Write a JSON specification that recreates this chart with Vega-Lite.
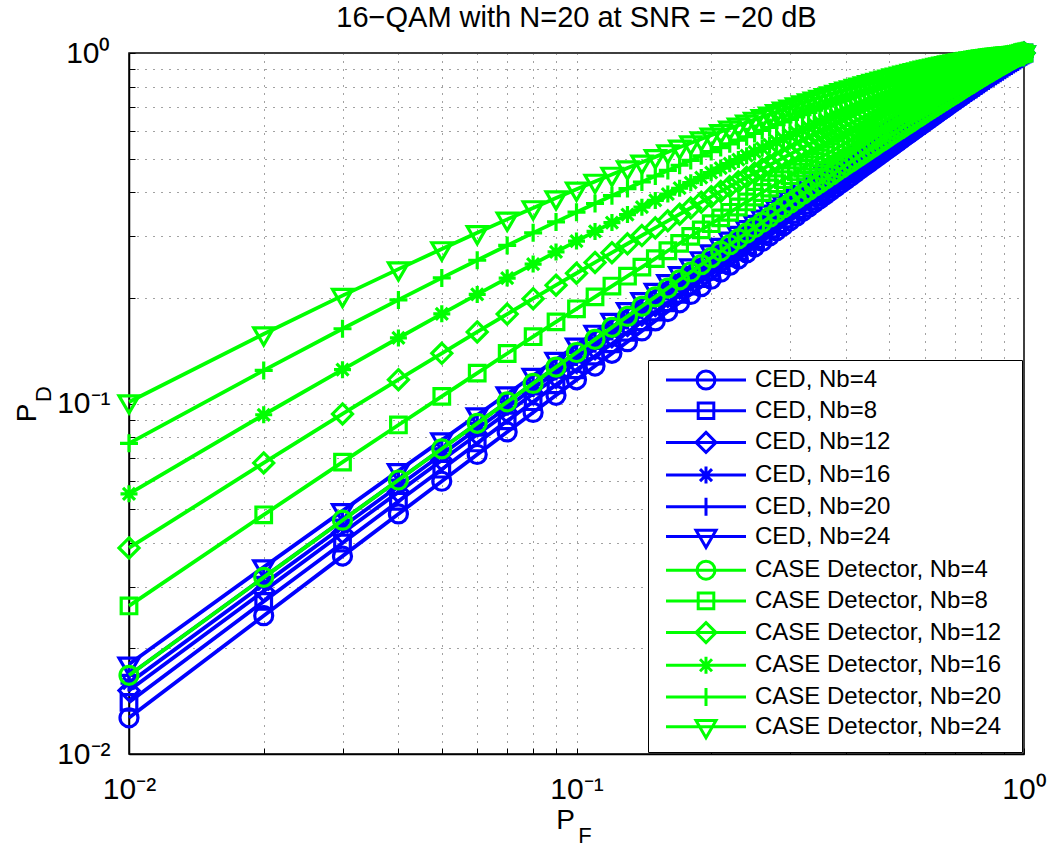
{
"$schema":"https://vega.github.io/schema/vega-lite/v6.json",
"width":895,"height":701,
"autosize":{"type":"none"},
"padding":{"left":129,"top":53,"right":28,"bottom":93},
"background":"white",
"title":{"text":"16−QAM with N=20 at SNR = −20 dB","fontSize":29,"font":"Liberation Sans","fontWeight":"normal","color":"black","offset":7,"dy":26,"baseline":"alphabetic","anchor":"middle","frame":"group"},
"datasets":{"names":[
{"k":"c4","series":"CED, Nb=4"},{"k":"c8","series":"CED, Nb=8"},{"k":"c12","series":"CED, Nb=12"},{"k":"c16","series":"CED, Nb=16"},{"k":"c20","series":"CED, Nb=20"},{"k":"c24","series":"CED, Nb=24"},
{"k":"g4","series":"CASE Detector, Nb=4"},{"k":"g8","series":"CASE Detector, Nb=8"},{"k":"g12","series":"CASE Detector, Nb=12"},{"k":"g16","series":"CASE Detector, Nb=16"},{"k":"g20","series":"CASE Detector, Nb=20"},{"k":"g24","series":"CASE Detector, Nb=24"}]},
"data":{"values":[
{"p":0.01,"c4":0.01268,"c8":0.01404,"c12":0.01517,"c16":0.01593,"c20":0.01677,"c24":0.01803,"g4":0.01677,"g8":0.02645,"g12":0.03871,"g16":0.05523,"g20":0.07696,"g24":0.101},
{"p":0.02,"c4":0.02481,"c8":0.02724,"c12":0.02915,"c16":0.03053,"c20":0.03191,"c24":0.03414,"g4":0.03191,"g8":0.04813,"g12":0.06766,"g16":0.09287,"g20":0.1243,"g24":0.1578},
{"p":0.03,"c4":0.03669,"c8":0.03999,"c12":0.04269,"c16":0.0445,"c20":0.04645,"c24":0.04939,"g4":0.04645,"g8":0.06805,"g12":0.09335,"g16":0.1249,"g20":0.1634,"g24":0.2031},
{"p":0.04,"c4":0.04842,"c8":0.05259,"c12":0.05587,"c16":0.05818,"c20":0.06049,"c24":0.06423,"g4":0.06049,"g8":0.08685,"g12":0.1169,"g16":0.1538,"g20":0.1975,"g24":0.2418},
{"p":0.05,"c4":0.06,"c8":0.06495,"c12":0.06884,"c16":0.07153,"c20":0.07427,"c24":0.07861,"g4":0.07427,"g8":0.1048,"g12":0.1391,"g16":0.1802,"g20":0.2282,"g24":0.276},
{"p":0.06,"c4":0.07154,"c8":0.07717,"c12":0.08157,"c16":0.08467,"c20":0.08777,"c24":0.09269,"g4":0.08777,"g8":0.1221,"g12":0.16,"g16":0.2048,"g20":0.2563,"g24":0.3069},
{"p":0.07,"c4":0.08296,"c8":0.08921,"c12":0.09418,"c16":0.09754,"c20":0.1011,"c24":0.1064,"g4":0.1011,"g8":0.1389,"g12":0.18,"g16":0.2279,"g20":0.2824,"g24":0.3352},
{"p":0.08,"c4":0.0943,"c8":0.1012,"c12":0.1066,"c16":0.1103,"c20":0.1141,"c24":0.1201,"g4":0.1141,"g8":0.1551,"g12":0.1991,"g16":0.2499,"g20":0.3068,"g24":0.3613},
{"p":0.09,"c4":0.1055,"c8":0.113,"c12":0.1189,"c16":0.1229,"c20":0.127,"c24":0.1334,"g4":0.127,"g8":0.1709,"g12":0.2175,"g16":0.2707,"g20":0.3297,"g24":0.3856},
{"p":0.1,"c4":0.1168,"c8":0.1248,"c12":0.1311,"c16":0.1353,"c20":0.1398,"c24":0.1465,"g4":0.1398,"g8":0.1863,"g12":0.2353,"g16":0.2906,"g20":0.3514,"g24":0.4085},
{"p":0.11,"c4":0.1279,"c8":0.1365,"c12":0.1432,"c16":0.1477,"c20":0.1524,"c24":0.1595,"g4":0.1524,"g8":0.2015,"g12":0.2526,"g16":0.3098,"g20":0.3721,"g24":0.43},
{"p":0.12,"c4":0.139,"c8":0.148,"c12":0.1551,"c16":0.1599,"c20":0.1649,"c24":0.1724,"g4":0.1649,"g8":0.2163,"g12":0.2693,"g16":0.3282,"g20":0.3917,"g24":0.4503},
{"p":0.13,"c4":0.1501,"c8":0.1596,"c12":0.167,"c16":0.172,"c20":0.1772,"c24":0.185,"g4":0.1772,"g8":0.2308,"g12":0.2856,"g16":0.3459,"g20":0.4105,"g24":0.4696},
{"p":0.14,"c4":0.1611,"c8":0.171,"c12":0.1788,"c16":0.184,"c20":0.1894,"c24":0.1976,"g4":0.1894,"g8":0.245,"g12":0.3015,"g16":0.3631,"g20":0.4285,"g24":0.4879},
{"p":0.15,"c4":0.172,"c8":0.1824,"c12":0.1905,"c16":0.1959,"c20":0.2015,"c24":0.21,"g4":0.2015,"g8":0.259,"g12":0.317,"g16":0.3797,"g20":0.4458,"g24":0.5054},
{"p":0.16,"c4":0.1829,"c8":0.1937,"c12":0.2021,"c16":0.2077,"c20":0.2135,"c24":0.2224,"g4":0.2135,"g8":0.2728,"g12":0.332,"g16":0.3957,"g20":0.4624,"g24":0.5221},
{"p":0.17,"c4":0.1938,"c8":0.205,"c12":0.2136,"c16":0.2195,"c20":0.2254,"c24":0.2345,"g4":0.2254,"g8":0.2864,"g12":0.3467,"g16":0.4113,"g20":0.4784,"g24":0.5382},
{"p":0.18,"c4":0.2047,"c8":0.2162,"c12":0.225,"c16":0.2311,"c20":0.2372,"c24":0.2466,"g4":0.2372,"g8":0.2997,"g12":0.3612,"g16":0.4265,"g20":0.4939,"g24":0.5535},
{"p":0.19,"c4":0.2154,"c8":0.2273,"c12":0.2365,"c16":0.2426,"c20":0.249,"c24":0.2585,"g4":0.249,"g8":0.3129,"g12":0.3753,"g16":0.4412,"g20":0.5088,"g24":0.5683},
{"p":0.2,"c4":0.2262,"c8":0.2384,"c12":0.2478,"c16":0.2542,"c20":0.2606,"c24":0.2705,"g4":0.2606,"g8":0.3258,"g12":0.3892,"g16":0.4556,"g20":0.5233,"g24":0.5825},
{"p":0.21,"c4":0.2369,"c8":0.2495,"c12":0.259,"c16":0.2656,"c20":0.2722,"c24":0.2822,"g4":0.2722,"g8":0.3386,"g12":0.4027,"g16":0.4696,"g20":0.5373,"g24":0.5962},
{"p":0.22,"c4":0.2476,"c8":0.2604,"c12":0.2703,"c16":0.2769,"c20":0.2837,"c24":0.2939,"g4":0.2837,"g8":0.3512,"g12":0.416,"g16":0.4832,"g20":0.5508,"g24":0.6094},
{"p":0.23,"c4":0.2582,"c8":0.2714,"c12":0.2814,"c16":0.2882,"c20":0.2951,"c24":0.3055,"g4":0.2951,"g8":0.3636,"g12":0.4291,"g16":0.4965,"g20":0.564,"g24":0.6222},
{"p":0.24,"c4":0.2689,"c8":0.2823,"c12":0.2925,"c16":0.2994,"c20":0.3064,"c24":0.317,"g4":0.3064,"g8":0.3759,"g12":0.4418,"g16":0.5095,"g20":0.5768,"g24":0.6345},
{"p":0.25,"c4":0.2795,"c8":0.2931,"c12":0.3035,"c16":0.3105,"c20":0.3176,"c24":0.3284,"g4":0.3176,"g8":0.388,"g12":0.4544,"g16":0.5221,"g20":0.5892,"g24":0.6463},
{"p":0.26,"c4":0.29,"c8":0.3039,"c12":0.3145,"c16":0.3216,"c20":0.3288,"c24":0.3397,"g4":0.3288,"g8":0.4,"g12":0.4668,"g16":0.5345,"g20":0.6013,"g24":0.6579},
{"p":0.27,"c4":0.3006,"c8":0.3147,"c12":0.3254,"c16":0.3326,"c20":0.3399,"c24":0.351,"g4":0.3399,"g8":0.4119,"g12":0.479,"g16":0.5466,"g20":0.613,"g24":0.669},
{"p":0.28,"c4":0.3111,"c8":0.3254,"c12":0.3363,"c16":0.3436,"c20":0.351,"c24":0.3621,"g4":0.351,"g8":0.4236,"g12":0.4909,"g16":0.5585,"g20":0.6244,"g24":0.6798},
{"p":0.29,"c4":0.3216,"c8":0.3361,"c12":0.347,"c16":0.3545,"c20":0.3619,"c24":0.3732,"g4":0.3619,"g8":0.4351,"g12":0.5026,"g16":0.5701,"g20":0.6355,"g24":0.6903},
{"p":0.3,"c4":0.332,"c8":0.3467,"c12":0.3578,"c16":0.3653,"c20":0.3729,"c24":0.3842,"g4":0.3729,"g8":0.4466,"g12":0.5142,"g16":0.5814,"g20":0.6464,"g24":0.7004},
{"p":0.31,"c4":0.3424,"c8":0.3573,"c12":0.3685,"c16":0.3761,"c20":0.3837,"c24":0.3952,"g4":0.3837,"g8":0.4578,"g12":0.5256,"g16":0.5925,"g20":0.6569,"g24":0.7102},
{"p":0.32,"c4":0.3529,"c8":0.3678,"c12":0.3792,"c16":0.3868,"c20":0.3945,"c24":0.4061,"g4":0.3945,"g8":0.469,"g12":0.5368,"g16":0.6034,"g20":0.6672,"g24":0.7198},
{"p":0.33,"c4":0.3632,"c8":0.3783,"c12":0.3898,"c16":0.3975,"c20":0.4052,"c24":0.4169,"g4":0.4052,"g8":0.4801,"g12":0.5478,"g16":0.6141,"g20":0.6772,"g24":0.7291},
{"p":0.34,"c4":0.3736,"c8":0.3888,"c12":0.4003,"c16":0.4081,"c20":0.4159,"c24":0.4276,"g4":0.4159,"g8":0.491,"g12":0.5586,"g16":0.6245,"g20":0.687,"g24":0.7381},
{"p":0.35,"c4":0.3839,"c8":0.3993,"c12":0.4109,"c16":0.4187,"c20":0.4265,"c24":0.4383,"g4":0.4265,"g8":0.5019,"g12":0.5693,"g16":0.6348,"g20":0.6966,"g24":0.7468},
{"p":0.36,"c4":0.3942,"c8":0.4097,"c12":0.4213,"c16":0.4292,"c20":0.437,"c24":0.4489,"g4":0.437,"g8":0.5126,"g12":0.5798,"g16":0.6448,"g20":0.7059,"g24":0.7553},
{"p":0.37,"c4":0.4044,"c8":0.42,"c12":0.4318,"c16":0.4396,"c20":0.4475,"c24":0.4594,"g4":0.4475,"g8":0.5232,"g12":0.5902,"g16":0.6547,"g20":0.715,"g24":0.7636},
{"p":0.38,"c4":0.4147,"c8":0.4304,"c12":0.4422,"c16":0.4501,"c20":0.458,"c24":0.4699,"g4":0.458,"g8":0.5337,"g12":0.6004,"g16":0.6644,"g20":0.7239,"g24":0.7717},
{"p":0.39,"c4":0.4249,"c8":0.4407,"c12":0.4525,"c16":0.4605,"c20":0.4684,"c24":0.4803,"g4":0.4684,"g8":0.5441,"g12":0.6105,"g16":0.6739,"g20":0.7325,"g24":0.7795},
{"p":0.4,"c4":0.4352,"c8":0.451,"c12":0.4628,"c16":0.4708,"c20":0.4788,"c24":0.4907,"g4":0.4788,"g8":0.5544,"g12":0.6205,"g16":0.6832,"g20":0.7411,"g24":0.7872},
{"p":0.41,"c4":0.4453,"c8":0.4612,"c12":0.4731,"c16":0.4811,"c20":0.489,"c24":0.501,"g4":0.489,"g8":0.5645,"g12":0.6302,"g16":0.6923,"g20":0.7493,"g24":0.7945},
{"p":0.42,"c4":0.4555,"c8":0.4714,"c12":0.4833,"c16":0.4913,"c20":0.4992,"c24":0.5112,"g4":0.4992,"g8":0.5746,"g12":0.6398,"g16":0.7012,"g20":0.7574,"g24":0.8018},
{"p":0.43,"c4":0.4656,"c8":0.4815,"c12":0.4935,"c16":0.5014,"c20":0.5094,"c24":0.5214,"g4":0.5094,"g8":0.5846,"g12":0.6493,"g16":0.7101,"g20":0.7653,"g24":0.8088},
{"p":0.44,"c4":0.4757,"c8":0.4916,"c12":0.5036,"c16":0.5116,"c20":0.5195,"c24":0.5315,"g4":0.5195,"g8":0.5944,"g12":0.6587,"g16":0.7187,"g20":0.7731,"g24":0.8157},
{"p":0.45,"c4":0.4858,"c8":0.5017,"c12":0.5137,"c16":0.5217,"c20":0.5296,"c24":0.5415,"g4":0.5296,"g8":0.6042,"g12":0.6679,"g16":0.7272,"g20":0.7806,"g24":0.8223},
{"p":0.46,"c4":0.4959,"c8":0.5118,"c12":0.5238,"c16":0.5317,"c20":0.5397,"c24":0.5516,"g4":0.5397,"g8":0.6139,"g12":0.6771,"g16":0.7355,"g20":0.788,"g24":0.8288},
{"p":0.47,"c4":0.5059,"c8":0.5218,"c12":0.5338,"c16":0.5417,"c20":0.5496,"c24":0.5615,"g4":0.5496,"g8":0.6235,"g12":0.686,"g16":0.7436,"g20":0.7952,"g24":0.8351},
{"p":0.48,"c4":0.5159,"c8":0.5318,"c12":0.5437,"c16":0.5516,"c20":0.5595,"c24":0.5713,"g4":0.5595,"g8":0.633,"g12":0.6949,"g16":0.7516,"g20":0.8023,"g24":0.8413},
{"p":0.49,"c4":0.5259,"c8":0.5418,"c12":0.5536,"c16":0.5615,"c20":0.5694,"c24":0.5812,"g4":0.5694,"g8":0.6424,"g12":0.7036,"g16":0.7595,"g20":0.8091,"g24":0.8472},
{"p":0.5,"c4":0.5359,"c8":0.5517,"c12":0.5636,"c16":0.5714,"c20":0.5793,"c24":0.5909,"g4":0.5793,"g8":0.6517,"g12":0.7122,"g16":0.7672,"g20":0.8159,"g24":0.8531},
{"p":0.51,"c4":0.5458,"c8":0.5616,"c12":0.5734,"c16":0.5812,"c20":0.589,"c24":0.6007,"g4":0.589,"g8":0.6609,"g12":0.7207,"g16":0.7749,"g20":0.8225,"g24":0.8588},
{"p":0.52,"c4":0.5557,"c8":0.5715,"c12":0.5832,"c16":0.591,"c20":0.5988,"c24":0.6103,"g4":0.5988,"g8":0.6701,"g12":0.7291,"g16":0.7823,"g20":0.829,"g24":0.8644},
{"p":0.53,"c4":0.5656,"c8":0.5813,"c12":0.593,"c16":0.6008,"c20":0.6084,"c24":0.6199,"g4":0.6084,"g8":0.6791,"g12":0.7373,"g16":0.7897,"g20":0.8352,"g24":0.8697},
{"p":0.54,"c4":0.5755,"c8":0.5911,"c12":0.6027,"c16":0.6104,"c20":0.6181,"c24":0.6294,"g4":0.6181,"g8":0.688,"g12":0.7455,"g16":0.7968,"g20":0.8414,"g24":0.875},
{"p":0.55,"c4":0.5854,"c8":0.6009,"c12":0.6124,"c16":0.6201,"c20":0.6276,"c24":0.639,"g4":0.6276,"g8":0.6969,"g12":0.7535,"g16":0.8039,"g20":0.8474,"g24":0.8801},
{"p":0.56,"c4":0.5952,"c8":0.6106,"c12":0.6221,"c16":0.6296,"c20":0.637,"c24":0.6484,"g4":0.637,"g8":0.7057,"g12":0.7614,"g16":0.8108,"g20":0.8533,"g24":0.8851},
{"p":0.57,"c4":0.605,"c8":0.6203,"c12":0.6317,"c16":0.6392,"c20":0.6467,"c24":0.6578,"g4":0.6467,"g8":0.7144,"g12":0.7692,"g16":0.8176,"g20":0.8591,"g24":0.8899},
{"p":0.58,"c4":0.6148,"c8":0.63,"c12":0.6413,"c16":0.6487,"c20":0.6558,"c24":0.667,"g4":0.6558,"g8":0.723,"g12":0.7769,"g16":0.8242,"g20":0.8647,"g24":0.8947},
{"p":0.59,"c4":0.6245,"c8":0.6396,"c12":0.6508,"c16":0.6582,"c20":0.6654,"c24":0.6763,"g4":0.6654,"g8":0.7315,"g12":0.7845,"g16":0.8308,"g20":0.8702,"g24":0.8992},
{"p":0.6,"c4":0.6343,"c8":0.6492,"c12":0.6603,"c16":0.6676,"c20":0.6748,"c24":0.6855,"g4":0.6748,"g8":0.74,"g12":0.7919,"g16":0.8372,"g20":0.8756,"g24":0.9038},
{"p":0.61,"c4":0.644,"c8":0.6588,"c12":0.6697,"c16":0.677,"c20":0.6841,"c24":0.6947,"g4":0.6841,"g8":0.7483,"g12":0.7993,"g16":0.8435,"g20":0.8808,"g24":0.9081},
{"p":0.62,"c4":0.6538,"c8":0.6684,"c12":0.6792,"c16":0.6863,"c20":0.6934,"c24":0.7038,"g4":0.6934,"g8":0.7566,"g12":0.8066,"g16":0.8497,"g20":0.886,"g24":0.9123},
{"p":0.63,"c4":0.6634,"c8":0.6779,"c12":0.6886,"c16":0.6956,"c20":0.7026,"c24":0.7129,"g4":0.7026,"g8":0.7648,"g12":0.8138,"g16":0.8558,"g20":0.8909,"g24":0.9164},
{"p":0.64,"c4":0.6731,"c8":0.6874,"c12":0.6979,"c16":0.7049,"c20":0.7117,"c24":0.7219,"g4":0.7117,"g8":0.7729,"g12":0.8208,"g16":0.8614,"g20":0.8959,"g24":0.9205},
{"p":0.65,"c4":0.6827,"c8":0.6968,"c12":0.7072,"c16":0.714,"c20":0.7208,"c24":0.7308,"g4":0.7208,"g8":0.7808,"g12":0.8277,"g16":0.8676,"g20":0.9006,"g24":0.9243},
{"p":0.66,"c4":0.6923,"c8":0.7062,"c12":0.7165,"c16":0.7232,"c20":0.7299,"c24":0.7397,"g4":0.7299,"g8":0.7889,"g12":0.8345,"g16":0.8733,"g20":0.9053,"g24":0.9283},
{"p":0.67,"c4":0.7019,"c8":0.7156,"c12":0.7257,"c16":0.7323,"c20":0.7388,"c24":0.7485,"g4":0.7388,"g8":0.7966,"g12":0.8413,"g16":0.8789,"g20":0.9098,"g24":0.9318},
{"p":0.68,"c4":0.7114,"c8":0.725,"c12":0.7348,"c16":0.7414,"c20":0.7478,"c24":0.7573,"g4":0.7478,"g8":0.8044,"g12":0.8479,"g16":0.8845,"g20":0.9142,"g24":0.9354},
{"p":0.69,"c4":0.721,"c8":0.7343,"c12":0.744,"c16":0.7504,"c20":0.7567,"c24":0.766,"g4":0.7567,"g8":0.8121,"g12":0.8545,"g16":0.8898,"g20":0.9186,"g24":0.9389},
{"p":0.7,"c4":0.7305,"c8":0.7436,"c12":0.7531,"c16":0.7594,"c20":0.7655,"c24":0.7747,"g4":0.7655,"g8":0.8197,"g12":0.8608,"g16":0.8951,"g20":0.9228,"g24":0.9423},
{"p":0.71,"c4":0.74,"c8":0.7528,"c12":0.7622,"c16":0.7683,"c20":0.7744,"c24":0.7832,"g4":0.7744,"g8":0.8272,"g12":0.8672,"g16":0.9003,"g20":0.9269,"g24":0.9456},
{"p":0.72,"c4":0.7494,"c8":0.762,"c12":0.7713,"c16":0.7771,"c20":0.7831,"c24":0.7918,"g4":0.7831,"g8":0.8346,"g12":0.8734,"g16":0.9053,"g20":0.9309,"g24":0.9487},
{"p":0.73,"c4":0.7589,"c8":0.7713,"c12":0.7801,"c16":0.786,"c20":0.7918,"c24":0.8003,"g4":0.7918,"g8":0.842,"g12":0.8795,"g16":0.9103,"g20":0.9348,"g24":0.9518},
{"p":0.74,"c4":0.7683,"c8":0.7803,"c12":0.7891,"c16":0.7948,"c20":0.8005,"c24":0.8087,"g4":0.8005,"g8":0.8492,"g12":0.8856,"g16":0.9151,"g20":0.9386,"g24":0.9548},
{"p":0.75,"c4":0.7777,"c8":0.7894,"c12":0.7979,"c16":0.8036,"c20":0.809,"c24":0.8171,"g4":0.809,"g8":0.8564,"g12":0.8914,"g16":0.9199,"g20":0.9423,"g24":0.9576},
{"p":0.76,"c4":0.7871,"c8":0.7985,"c12":0.8068,"c16":0.8122,"c20":0.8176,"c24":0.8254,"g4":0.8176,"g8":0.8635,"g12":0.8972,"g16":0.9245,"g20":0.9459,"g24":0.9604},
{"p":0.77,"c4":0.7963,"c8":0.8075,"c12":0.8156,"c16":0.8208,"c20":0.826,"c24":0.8336,"g4":0.826,"g8":0.8704,"g12":0.903,"g16":0.929,"g20":0.9494,"g24":0.9632},
{"p":0.78,"c4":0.8057,"c8":0.8165,"c12":0.8243,"c16":0.8295,"c20":0.8344,"c24":0.8419,"g4":0.8344,"g8":0.8774,"g12":0.9085,"g16":0.9335,"g20":0.9527,"g24":0.9657},
{"p":0.79,"c4":0.815,"c8":0.8254,"c12":0.833,"c16":0.8379,"c20":0.8428,"c24":0.8499,"g4":0.8428,"g8":0.8842,"g12":0.914,"g16":0.9377,"g20":0.956,"g24":0.9683},
{"p":0.8,"c4":0.8242,"c8":0.8343,"c12":0.8417,"c16":0.8464,"c20":0.8512,"c24":0.8579,"g4":0.8512,"g8":0.8909,"g12":0.9195,"g16":0.9419,"g20":0.9592,"g24":0.9707},
{"p":0.81,"c4":0.8334,"c8":0.8432,"c12":0.8503,"c16":0.8549,"c20":0.8594,"c24":0.866,"g4":0.8594,"g8":0.8975,"g12":0.9247,"g16":0.946,"g20":0.9623,"g24":0.973},
{"p":0.82,"c4":0.8426,"c8":0.8521,"c12":0.8588,"c16":0.8633,"c20":0.8676,"c24":0.874,"g4":0.8676,"g8":0.9041,"g12":0.9299,"g16":0.9501,"g20":0.9652,"g24":0.9754},
{"p":0.83,"c4":0.8518,"c8":0.8608,"c12":0.8673,"c16":0.8716,"c20":0.8758,"c24":0.8818,"g4":0.8758,"g8":0.9105,"g12":0.935,"g16":0.9539,"g20":0.9681,"g24":0.9775},
{"p":0.84,"c4":0.8609,"c8":0.8695,"c12":0.8758,"c16":0.8798,"c20":0.8838,"c24":0.8896,"g4":0.8838,"g8":0.9168,"g12":0.94,"g16":0.9576,"g20":0.9709,"g24":0.9796},
{"p":0.85,"c4":0.8699,"c8":0.8782,"c12":0.8842,"c16":0.888,"c20":0.8918,"c24":0.8973,"g4":0.8918,"g8":0.9231,"g12":0.9448,"g16":0.9613,"g20":0.9736,"g24":0.9815},
{"p":0.86,"c4":0.879,"c8":0.8869,"c12":0.8925,"c16":0.8962,"c20":0.8997,"c24":0.9049,"g4":0.8997,"g8":0.9292,"g12":0.9495,"g16":0.9649,"g20":0.9761,"g24":0.9834},
{"p":0.87,"c4":0.888,"c8":0.8955,"c12":0.9008,"c16":0.9043,"c20":0.9076,"c24":0.9125,"g4":0.9076,"g8":0.9352,"g12":0.9542,"g16":0.9683,"g20":0.9785,"g24":0.9852},
{"p":0.88,"c4":0.897,"c8":0.904,"c12":0.909,"c16":0.9123,"c20":0.9154,"c24":0.92,"g4":0.9154,"g8":0.9412,"g12":0.9586,"g16":0.9716,"g20":0.981,"g24":0.9869},
{"p":0.89,"c4":0.9059,"c8":0.9125,"c12":0.9172,"c16":0.9202,"c20":0.9231,"c24":0.9274,"g4":0.9231,"g8":0.947,"g12":0.963,"g16":0.9748,"g20":0.9832,"g24":0.9886},
{"p":0.9,"c4":0.9148,"c8":0.9209,"c12":0.9253,"c16":0.9281,"c20":0.9308,"c24":0.9346,"g4":0.9308,"g8":0.9527,"g12":0.9673,"g16":0.9779,"g20":0.9854,"g24":0.9901},
{"p":0.91,"c4":0.9237,"c8":0.9293,"c12":0.9333,"c16":0.9358,"c20":0.9383,"c24":0.9418,"g4":0.9383,"g8":0.9582,"g12":0.9713,"g16":0.9808,"g20":0.9875,"g24":0.9916},
{"p":0.92,"c4":0.9325,"c8":0.9376,"c12":0.9412,"c16":0.9435,"c20":0.9457,"c24":0.9489,"g4":0.9457,"g8":0.9637,"g12":0.9754,"g16":0.9836,"g20":0.9894,"g24":0.9929},
{"p":0.93,"c4":0.9413,"c8":0.9458,"c12":0.949,"c16":0.9511,"c20":0.9531,"c24":0.956,"g4":0.9531,"g8":0.969,"g12":0.9789,"g16":0.9863,"g20":0.9912,"g24":0.9942},
{"p":0.94,"c4":0.95,"c8":0.954,"c12":0.9568,"c16":0.9586,"c20":0.9603,"c24":0.9628,"g4":0.9603,"g8":0.9741,"g12":0.9828,"g16":0.9888,"g20":0.993,"g24":0.9954},
{"p":0.95,"c4":0.9586,"c8":0.962,"c12":0.9644,"c16":0.966,"c20":0.9675,"c24":0.9696,"g4":0.9675,"g8":0.9791,"g12":0.9863,"g16":0.9912,"g20":0.9945,"g24":0.9965},
{"p":0.96,"c4":0.9671,"c8":0.97,"c12":0.972,"c16":0.9732,"c20":0.9745,"c24":0.9762,"g4":0.9745,"g8":0.9839,"g12":0.9896,"g16":0.9934,"g20":0.996,"g24":0.9975},
{"p":0.97,"c4":0.9756,"c8":0.9778,"c12":0.9794,"c16":0.9803,"c20":0.9813,"c24":0.9826,"g4":0.9813,"g8":0.9885,"g12":0.9927,"g16":0.9955,"g20":0.9973,"g24":0.9983},
{"p":0.98,"c4":0.984,"c8":0.9855,"c12":0.9866,"c16":0.9872,"c20":0.9879,"c24":0.9888,"g4":0.9879,"g8":0.9927,"g12":0.9955,"g16":0.9973,"g20":0.9984,"g24":0.999},
{"p":0.99,"c4":0.9922,"c8":0.993,"c12":0.9935,"c16":0.9939,"c20":0.9942,"c24":0.9947,"g4":0.9942,"g8":0.9967,"g12":0.9981,"g16":0.9989,"g20":0.9994,"g24":0.9996},
{"p":1,"c4":1,"c8":1,"c12":1,"c16":1,"c20":1,"c24":1,"g4":1,"g8":1,"g12":1,"g16":1,"g20":1,"g24":1}
]},
"transform":[
{"fold":["c4","c8","c12","c16","c20","c24","g4","g8","g12","g16","g20","g24"],"as":["k","pd"]},
{"lookup":"k","from":{"data":{"name":"names"},"key":"k","fields":["series"]}}
],
"layer":[
{"transform":[{"filter":{"field":"k","oneOf":["c4","c8","c12","c16","c20","c24"]}}],
 "mark":{"type":"line","strokeWidth":3.8,"color":"#0000ff","clip":false},
 "encoding":{
  "x":{"field":"p","type":"quantitative","scale":{"type":"log","domain":[0.01,1],"nice":false},
   "axis":{"orient":"bottom","values":[0.01,0.02,0.03,0.04,0.05,0.06,0.07,0.08,0.09,0.1,0.2,0.3,0.4,0.5,0.6,0.7,0.8,0.9,1],
    "labelExpr":"datum.value == 0.01 ? '10⁻²' : datum.value == 0.1 ? '10⁻¹' : datum.value == 1 ? '10⁰' : ''",
    "labelFlush":false,"labelOverlap":false,"labelFontSize":30,"labelColor":"black","labelBaseline":"alphabetic","labelPadding":50,
    "ticks":true,"tickSize":-6,"tickColor":"black","tickWidth":1,"domainColor":"black","domainWidth":1.5,
    "grid":true,"gridColor":"#444444","gridDash":[1,7],"gridWidth":1,
    "title":"P","titleFontSize":28,"titleFontWeight":"normal","titleColor":"black","titleX":436,"titleY":74,"titleAlign":"center","titleBaseline":"alphabetic","titleAngle":0}},
  "y":{"field":"pd","type":"quantitative","scale":{"type":"log","domain":[0.01,1],"nice":false},
   "axis":{"orient":"left","values":[0.01,0.02,0.03,0.04,0.05,0.06,0.07,0.08,0.09,0.1,0.2,0.3,0.4,0.5,0.6,0.7,0.8,0.9,1],
    "labelExpr":"datum.value == 0.01 ? '10⁻²' : datum.value == 0.1 ? '10⁻¹' : datum.value == 1 ? '10⁰' : ''",
    "labelFlush":false,"labelOverlap":false,"labelFontSize":30,"labelColor":"black","labelAlign":"right","labelBaseline":"middle","labelPadding":25,
    "ticks":true,"tickSize":-6,"tickColor":"black","tickWidth":1,"domainColor":"black","domainWidth":1.5,
    "grid":true,"gridColor":"#444444","gridDash":[1,7],"gridWidth":1,
    "title":"P","titleFontSize":28,"titleFontWeight":"normal","titleColor":"black","titleX":-94,"titleY":359.5,"titleAlign":"center","titleBaseline":"alphabetic","titleAngle":270}},
  "detail":{"field":"k"}
 }},
{"transform":[{"filter":{"field":"k","equal":"c4"}}],"mark":{"type":"point","shape":"M0.9,0A0.9,0.9,0,1,1,-0.9,0A0.9,0.9,0,1,1,0.9,0Z","filled":false,"color":"#0000ff","strokeWidth":3.2,"size":400,"opacity":1,"clip":false},"encoding":{"x":{"field":"p","type":"quantitative","axis":null},"y":{"field":"pd","type":"quantitative","axis":null}}},
{"transform":[{"filter":{"field":"k","equal":"c8"}}],"mark":{"type":"point","shape":"M-0.78,-0.78H0.78V0.78H-0.78Z","filled":false,"color":"#0000ff","strokeWidth":3.2,"size":400,"opacity":1,"clip":false},"encoding":{"x":{"field":"p","type":"quantitative","axis":null},"y":{"field":"pd","type":"quantitative","axis":null}}},
{"transform":[{"filter":{"field":"k","equal":"c12"}}],"mark":{"type":"point","shape":"M0,-1L1,0L0,1L-1,0Z","filled":false,"color":"#0000ff","strokeWidth":3.2,"size":400,"opacity":1,"clip":false},"encoding":{"x":{"field":"p","type":"quantitative","axis":null},"y":{"field":"pd","type":"quantitative","axis":null}}},
{"transform":[{"filter":{"field":"k","equal":"c16"}}],"mark":{"type":"point","shape":"M-0.85,0H0.85M0,-0.85V0.85M-0.6,-0.6L0.6,0.6M-0.6,0.6L0.6,-0.6","filled":false,"color":"#0000ff","strokeWidth":3.2,"size":400,"opacity":1,"clip":false},"encoding":{"x":{"field":"p","type":"quantitative","axis":null},"y":{"field":"pd","type":"quantitative","axis":null}}},
{"transform":[{"filter":{"field":"k","equal":"c20"}}],"mark":{"type":"point","shape":"M-0.9,0H0.9M0,-0.9V0.9","filled":false,"color":"#0000ff","strokeWidth":3.2,"size":400,"opacity":1,"clip":false},"encoding":{"x":{"field":"p","type":"quantitative","axis":null},"y":{"field":"pd","type":"quantitative","axis":null}}},
{"transform":[{"filter":{"field":"k","equal":"c24"}}],"mark":{"type":"point","shape":"M-1,-0.62L1,-0.62L0,1.1Z","filled":false,"color":"#0000ff","strokeWidth":3.2,"size":400,"opacity":1,"clip":false},"encoding":{"x":{"field":"p","type":"quantitative","axis":null},"y":{"field":"pd","type":"quantitative","axis":null}}},
{"transform":[{"filter":{"field":"k","oneOf":["g4","g8","g12","g16","g20","g24"]}}],
 "mark":{"type":"line","strokeWidth":3.8,"color":"#00ff00","clip":false},
 "encoding":{"x":{"field":"p","type":"quantitative","axis":null},"y":{"field":"pd","type":"quantitative","axis":null},"detail":{"field":"k"}}},
{"transform":[{"filter":{"field":"k","equal":"g4"}}],"mark":{"type":"point","shape":"M0.9,0A0.9,0.9,0,1,1,-0.9,0A0.9,0.9,0,1,1,0.9,0Z","filled":false,"color":"#00ff00","strokeWidth":3.2,"size":400,"opacity":1,"clip":false},"encoding":{"x":{"field":"p","type":"quantitative","axis":null},"y":{"field":"pd","type":"quantitative","axis":null}}},
{"transform":[{"filter":{"field":"k","equal":"g8"}}],"mark":{"type":"point","shape":"M-0.78,-0.78H0.78V0.78H-0.78Z","filled":false,"color":"#00ff00","strokeWidth":3.2,"size":400,"opacity":1,"clip":false},"encoding":{"x":{"field":"p","type":"quantitative","axis":null},"y":{"field":"pd","type":"quantitative","axis":null}}},
{"transform":[{"filter":{"field":"k","equal":"g12"}}],"mark":{"type":"point","shape":"M0,-1L1,0L0,1L-1,0Z","filled":false,"color":"#00ff00","strokeWidth":3.2,"size":400,"opacity":1,"clip":false},"encoding":{"x":{"field":"p","type":"quantitative","axis":null},"y":{"field":"pd","type":"quantitative","axis":null}}},
{"transform":[{"filter":{"field":"k","equal":"g16"}}],"mark":{"type":"point","shape":"M-0.85,0H0.85M0,-0.85V0.85M-0.6,-0.6L0.6,0.6M-0.6,0.6L0.6,-0.6","filled":false,"color":"#00ff00","strokeWidth":3.2,"size":400,"opacity":1,"clip":false},"encoding":{"x":{"field":"p","type":"quantitative","axis":null},"y":{"field":"pd","type":"quantitative","axis":null}}},
{"transform":[{"filter":{"field":"k","equal":"g20"}}],"mark":{"type":"point","shape":"M-0.9,0H0.9M0,-0.9V0.9","filled":false,"color":"#00ff00","strokeWidth":3.2,"size":400,"opacity":1,"clip":false},"encoding":{"x":{"field":"p","type":"quantitative","axis":null},"y":{"field":"pd","type":"quantitative","axis":null}}},
{"transform":[{"filter":{"field":"k","equal":"g24"}}],"mark":{"type":"point","shape":"M-1,-0.62L1,-0.62L0,1.1Z","filled":false,"color":"#00ff00","strokeWidth":3.2,"size":400,"opacity":1,"clip":false},"encoding":{"x":{"field":"p","type":"quantitative","axis":null},"y":{"field":"pd","type":"quantitative","axis":null}}},
{"transform":[{"filter":"datum.p > 2"}],
 "mark":{"type":"point","filled":false,"strokeWidth":3.2,"size":400,"opacity":1},
 "encoding":{
  "x":{"field":"p","type":"quantitative",
   "axis":{"orient":"bottom","labels":false,"ticks":false,"domain":false,"grid":false,"title":"F","titleFontSize":22,"titleFontWeight":"normal","titleColor":"black","titleX":455.5,"titleY":88,"titleAlign":"center","titleBaseline":"alphabetic","titleAngle":0}},
  "y":{"field":"pd","type":"quantitative",
   "axis":{"orient":"left","labels":false,"ticks":false,"domain":false,"grid":false,"title":"D","titleFontSize":22,"titleFontWeight":"normal","titleColor":"black","titleX":-79,"titleY":340.5,"titleAlign":"center","titleBaseline":"alphabetic","titleAngle":270}},
  "color":{"field":"series","type":"nominal",
   "scale":{"domain":["CED, Nb=4","CED, Nb=8","CED, Nb=12","CED, Nb=16","CED, Nb=20","CED, Nb=24","CASE Detector, Nb=4","CASE Detector, Nb=8","CASE Detector, Nb=12","CASE Detector, Nb=16","CASE Detector, Nb=20","CASE Detector, Nb=24"],
   "range":["#0000ff","#0000ff","#0000ff","#0000ff","#0000ff","#0000ff","#00ff00","#00ff00","#00ff00","#00ff00","#00ff00","#00ff00"]},
   "legend":{"title":null,"orient":"bottom-right","offset":2,"padding":8,"strokeColor":"black","fillColor":"white","labelFontSize":24,"labelFont":"Liberation Sans","labelColor":"black","labelOffset":37,"symbolOffset":38,"symbolSize":400,"symbolStrokeWidth":3,"symbolOpacity":1,"symbolFillColor":"transparent","rowPadding":1.7,"labelLimit":500}},
  "shape":{"field":"series","type":"nominal",
   "scale":{"domain":["CED, Nb=4","CED, Nb=8","CED, Nb=12","CED, Nb=16","CED, Nb=20","CED, Nb=24","CASE Detector, Nb=4","CASE Detector, Nb=8","CASE Detector, Nb=12","CASE Detector, Nb=16","CASE Detector, Nb=20","CASE Detector, Nb=24"],
   "range":["M30.2,0M-4,0H4M0.9,0A0.9,0.9,0,1,1,-0.9,0A0.9,0.9,0,1,1,0.9,0Z","M30.2,0M-4,0H4M-0.78,-0.78H0.78V0.78H-0.78Z","M30.2,0M-4,0H4M0,-1L1,0L0,1L-1,0Z","M30.2,0M-4,0H4M-0.85,0H0.85M0,-0.85V0.85M-0.6,-0.6L0.6,0.6M-0.6,0.6L0.6,-0.6","M30.2,0M-4,0H4M-0.9,0H0.9M0,-0.9V0.9","M30.2,0M-4,0H4M-1,-0.62L1,-0.62L0,1.1Z",
    "M30.2,0M-4,0H4M0.9,0A0.9,0.9,0,1,1,-0.9,0A0.9,0.9,0,1,1,0.9,0Z","M30.2,0M-4,0H4M-0.78,-0.78H0.78V0.78H-0.78Z","M30.2,0M-4,0H4M0,-1L1,0L0,1L-1,0Z","M30.2,0M-4,0H4M-0.85,0H0.85M0,-0.85V0.85M-0.6,-0.6L0.6,0.6M-0.6,0.6L0.6,-0.6","M30.2,0M-4,0H4M-0.9,0H0.9M0,-0.9V0.9","M30.2,0M-4,0H4M-1,-0.62L1,-0.62L0,1.1Z"]},
   "legend":{"title":null,"orient":"bottom-right","offset":2,"padding":8,"strokeColor":"black","fillColor":"white","labelFontSize":24,"labelFont":"Liberation Sans","labelColor":"black","labelOffset":37,"symbolOffset":38,"symbolSize":400,"symbolStrokeWidth":3,"symbolOpacity":1,"symbolFillColor":"transparent","rowPadding":1.7,"labelLimit":500}}
 }}
],
"resolve":{"axis":{"x":"independent","y":"independent"}},
"config":{"font":"Liberation Sans","view":{"stroke":"black","strokeWidth":1.5},
 "axis":{"labelFont":"Liberation Sans","titleFont":"Liberation Sans"}}
}
